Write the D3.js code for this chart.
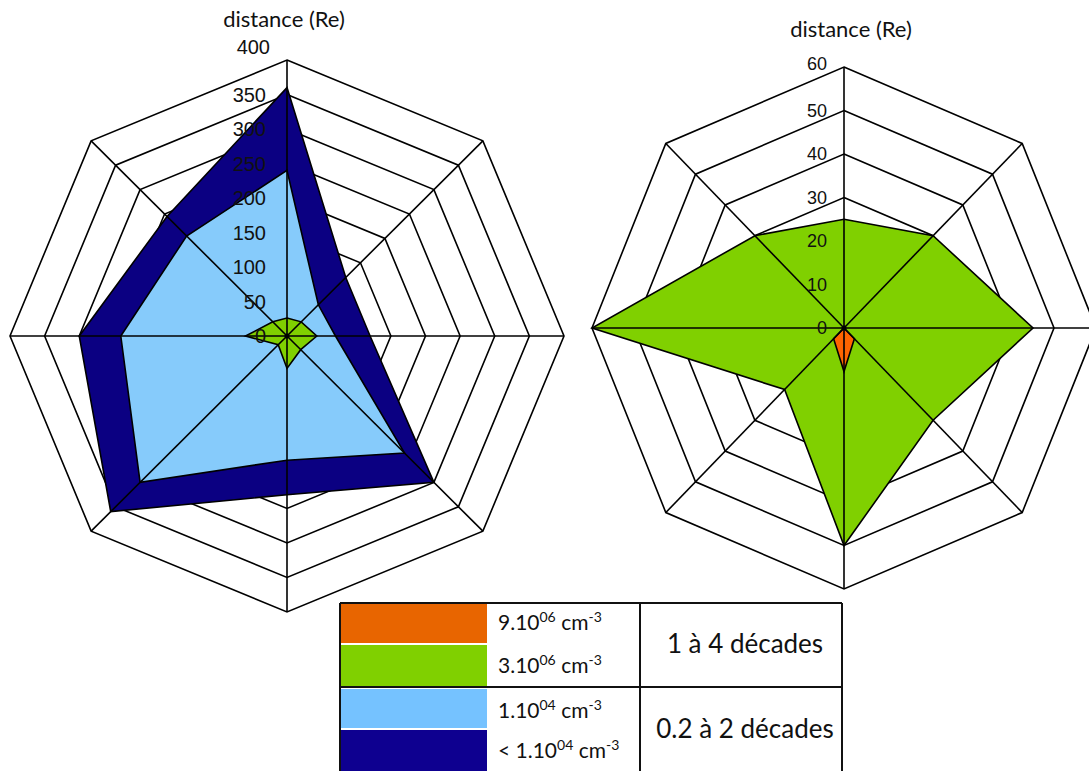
<!DOCTYPE html>
<html><head><meta charset="utf-8">
<script src="https://cdn.jsdelivr.net/npm/d3@7"></script>
<style>body{margin:0;background:#fff}svg{display:block}</style>
</head><body>
<svg id="c" width="1089" height="771"></svg>
<script>
// ---- data ----
const axes = ["N","NE","E","SE","S","SW","W","NW"];
const leftTicks = [0,50,100,150,200,250,300,350,400];
const rightTicks = [0,10,20,30,40,50,60];
const leftTitle = "distance (Re)";
const rightTitle = "distance (Re)";
// left chart series
const darkBlueVals  = [360,120,120,300,230,360,300,245];
const lightBlueVals = [240, 64, 70,240,180,300,240,205];
const greenLeftVals = [ 26, 29, 43, 28, 47, 18, 60, 29];
// right chart series
const greenRightVals  = [25,30,45,30,50,20,60,30];
const orangeRightVals = [0,0,0,3.5,10,3.5,0,0];
// legend
const legendNames = ["9.10|06| cm|-3","3.10|06| cm|-3","1.10|04| cm|-3","< 1.10|04| cm|-3"];
const legendGroups = ["1 à 4 décades","0.2 à 2 décades"];

const colDark = "#0b0082", colLight = "#86cbfb", colGreen = "#80d000", colOrange = "#ff6400";
const legColors = ["#e86500","#80d000","#75c2ff","#0e0090"];

const svg = d3.select("#c");

function radar(cfg){
  const g = svg.append("g");
  const r = d3.scaleLinear().domain([0, cfg.max]).range([0, 1]);
  const ang = d3.scalePoint().domain(axes).range([0, 2*Math.PI*(7/8)]);
  const pt = (a, v) => [cfg.cx + cfg.rx*r(v)*Math.sin(ang(a)), cfg.cy - cfg.ry*r(v)*Math.cos(ang(a))];
  const line = d3.line().curve(d3.curveLinearClosed);
  // rings
  g.selectAll("path.ring").data(cfg.ticks.filter(t=>t>0)).join("path")
    .attr("d", t => line(axes.map(a => pt(a, t))))
    .attr("fill","none").attr("stroke","#000").attr("stroke-width",1.6);
  // series
  cfg.series.forEach(s => {
    g.append("path").attr("d", line(axes.map((a,i) => pt(a, s.vals[i]))))
      .attr("fill", s.color).attr("stroke","#000").attr("stroke-width",1.6)
      .attr("stroke-linejoin","miter");
  });
  // spokes
  g.selectAll("line.spoke").data(axes).join("line")
    .attr("x1", cfg.cx).attr("y1", cfg.cy)
    .attr("x2", a => pt(a, cfg.max)[0]).attr("y2", a => pt(a, cfg.max)[1])
    .attr("stroke","#000").attr("stroke-width",1.6);
  g.append("circle").attr("cx",cfg.cx).attr("cy",cfg.cy).attr("r",2.5).attr("fill","#000");
  // tick labels
  g.selectAll("text.tick").data(cfg.ticks).join("text")
    .attr("x", t => cfg.cx - cfg.labDx + (t===cfg.max ? cfg.topDx : 0))
    .attr("y", t => pt("N", t)[1] + (t===cfg.max ? cfg.topDy : 0))
    .attr("text-anchor","end").attr("dominant-baseline","central")
    .attr("font-family","'Liberation Sans', Arial, sans-serif")
    .attr("font-size", cfg.fs).attr("fill","#111")
    .text(t => t);
  // title
  g.append("text").attr("x", cfg.tx).attr("y", cfg.ty).attr("text-anchor","middle")
    .attr("font-family","Lato, 'Open Sans', sans-serif").attr("font-size",22).attr("fill","#111")
    .text(cfg.title);
}

radar({cx:287, cy:336, rx:277, ry:276, max:400, ticks:leftTicks, fs:20, labDx:21, topDx:4, topDy:-13,
  tx:284, ty:27, title:leftTitle,
  series:[{vals:darkBlueVals,color:colDark},{vals:lightBlueVals,color:colLight},{vals:greenLeftVals,color:colGreen}]});

radar({cx:844, cy:328, rx:252, ry:261, max:60, ticks:rightTicks, fs:18, labDx:17, topDx:0, topDy:-3,
  tx:851, ty:37, title:rightTitle,
  series:[{vals:greenRightVals,color:colGreen},{vals:orangeRightVals,color:colOrange}]});

// ---- legend table ----
const L = {x0:340, x1:842, y0:603, y1:772, mid:687, col:640, sw:487};
const lg = svg.append("g");
const swY = [[603,643],[645,687],[689,728],[730,772]];
lg.selectAll("rect.sw").data(legendNames).join("rect")
  .attr("x", L.x0).attr("width", L.sw - L.x0)
  .attr("y", (d,i) => swY[i][0]).attr("height", (d,i) => swY[i][1]-swY[i][0])
  .attr("fill", (d,i) => legColors[i]);
const baseY = [630, 673, 718, 758];
legendNames.forEach((n,i) => {
  const parts = n.split("|");
  const t = lg.append("text").attr("x", 498).attr("y", baseY[i])
    .attr("font-family","Lato, 'Open Sans', sans-serif").attr("font-size",21).attr("fill","#111");
  t.append("tspan").text(parts[0]);
  t.append("tspan").attr("dy",-8).attr("font-size",14).text(parts[1]);
  t.append("tspan").attr("dy",8).text(parts[2]);
  t.append("tspan").attr("dy",-8).attr("font-size",14).text(parts[3]);
});
const grpY = [653, 738];
lg.selectAll("text.grp").data(legendGroups).join("text")
  .attr("x", 745).attr("y", (d,i) => grpY[i]).attr("text-anchor","middle")
  .attr("font-family","Lato, 'Open Sans', sans-serif").attr("font-size",26).attr("fill","#111")
  .text(d => d);
// borders
const addLine = (x1,y1,x2,y2) => lg.append("line").attr("x1",x1).attr("y1",y1).attr("x2",x2).attr("y2",y2)
  .attr("stroke","#111").attr("stroke-width",2);
addLine(L.x0, L.y0, L.x1, L.y0);
addLine(L.x0, L.mid, L.x1, L.mid);
addLine(L.x0, L.y0, L.x0, L.y1);
addLine(L.x1, L.y0, L.x1, L.y1);
addLine(L.col, L.y0, L.col, L.y1);
</script>
</body></html>
